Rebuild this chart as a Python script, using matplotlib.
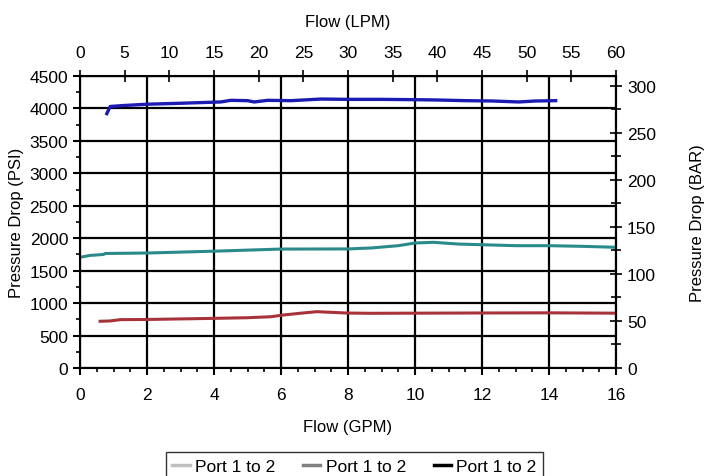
import matplotlib.pyplot as plt
from matplotlib.lines import Line2D
from matplotlib.ticker import MultipleLocator

plt.rcParams['font.family'] = ['Liberation Sans', 'DejaVu Sans']
plt.rcParams['font.size'] = 12

# flow in GPM, pressure drop in PSI
blue_gpm = [0.8, 0.9, 1.3, 2.0, 3.0, 4.2, 4.5, 5.0, 5.2, 5.6, 6.3, 7.2, 8.0, 9.0, 10.0, 10.7, 11.5, 12.3, 13.1, 13.6, 14.2]
blue_psi = [3920, 4030, 4045, 4065, 4080, 4100, 4125, 4120, 4100, 4125, 4120, 4145, 4140, 4140, 4135, 4130, 4120, 4115, 4100, 4115, 4120]

teal_gpm = [0.0, 0.3, 0.7, 0.75, 2.0, 4.0, 6.0, 8.0, 8.7, 9.5, 10.0, 10.55, 11.3, 12.0, 13.0, 14.0, 15.0, 16.0]
teal_psi = [1706, 1735, 1750, 1765, 1772, 1800, 1833, 1835, 1850, 1885, 1926, 1937, 1910, 1900, 1885, 1885, 1875, 1860]

red_gpm = [0.6, 0.9, 1.2, 2.0, 4.0, 5.0, 5.7, 6.06, 6.6, 7.07, 7.96, 8.66, 10.0, 12.0, 14.0, 16.0]
red_psi = [720, 725, 745, 748, 765, 775, 790, 816, 845, 868, 847, 843, 845, 848, 850, 845]

legend_labels = ["Port 1 to 2", "Port 1 to 2", "Port 1 to 2"]
legend_colors = ["#c0c0c0", "#808080", "#000000"]

PSI_PER_BAR = 14.5038
LPM_PER_GPM = 60 / 16


def main():
    fig = plt.figure(figsize=(7.05, 4.77), dpi=100)
    ax = fig.add_axes([80 / 705, 1 - 369 / 477, 536 / 705, 292 / 477])

    ax.plot(red_gpm, red_psi, color="#a8323a", lw=2.2)
    ax.plot(teal_gpm, teal_psi, color="#2a8a8a", lw=2.2)
    ax.plot(blue_gpm, blue_psi, color="#1c1cb4", lw=2.4)

    ax.set_xlim(0, 16)
    ax.set_ylim(0, 4500)
    ax.xaxis.set_major_locator(MultipleLocator(2))
    ax.xaxis.set_minor_locator(MultipleLocator(0.5))
    ax.yaxis.set_major_locator(MultipleLocator(500))
    ax.yaxis.set_minor_locator(MultipleLocator(250))
    ax.grid(True, which="major", color="black", lw=1.6)
    ax.tick_params(which="major", direction="out", length=5, width=1.5, labelsize=12.5)
    ax.tick_params(axis="x", which="major", pad=9)
    ax.tick_params(which="minor", direction="out", length=3, width=1.2)
    for s in ax.spines.values():
        s.set_linewidth(1.5)
    ax.set_xlabel("Flow (GPM)", fontsize=12, labelpad=12)
    ax.set_ylabel("Pressure Drop (PSI)", fontsize=12, labelpad=4)

    top = ax.secondary_xaxis("top", functions=(lambda g: g * LPM_PER_GPM, lambda l: l / LPM_PER_GPM))
    top.xaxis.set_major_locator(MultipleLocator(5))
    top.tick_params(direction="inout", length=9, width=1.2, labelsize=12.5, pad=7)
    top.set_xlabel("Flow (LPM)", fontsize=12, labelpad=14)

    right = ax.secondary_yaxis("right", functions=(lambda p: p / PSI_PER_BAR, lambda b: b * PSI_PER_BAR))
    right.yaxis.set_major_locator(MultipleLocator(50))
    right.yaxis.set_minor_locator(MultipleLocator(25))
    right.tick_params(which="major", direction="inout", length=9, width=1.2, labelsize=12.5)
    right.tick_params(which="minor", direction="inout", length=7, width=1.2)
    right.set_ylabel("Pressure Drop (BAR)", fontsize=12, labelpad=24)

    handles = [Line2D([], [], color=c, lw=2.5) for c in legend_colors]
    leg = fig.legend(handles, legend_labels, loc="upper center", ncol=3,
                     bbox_to_anchor=(354.5 / 705, 1 - 453 / 477), frameon=True,
                     fancybox=False, edgecolor="black", handlelength=1.0,
                     handletextpad=0.3, columnspacing=1.6, borderpad=0.4,
                     borderaxespad=0, fontsize=12.5)
    leg.get_frame().set_linewidth(1.0)

    fig.savefig("out.png", dpi=100)


if __name__ == '__main__':
    main()
